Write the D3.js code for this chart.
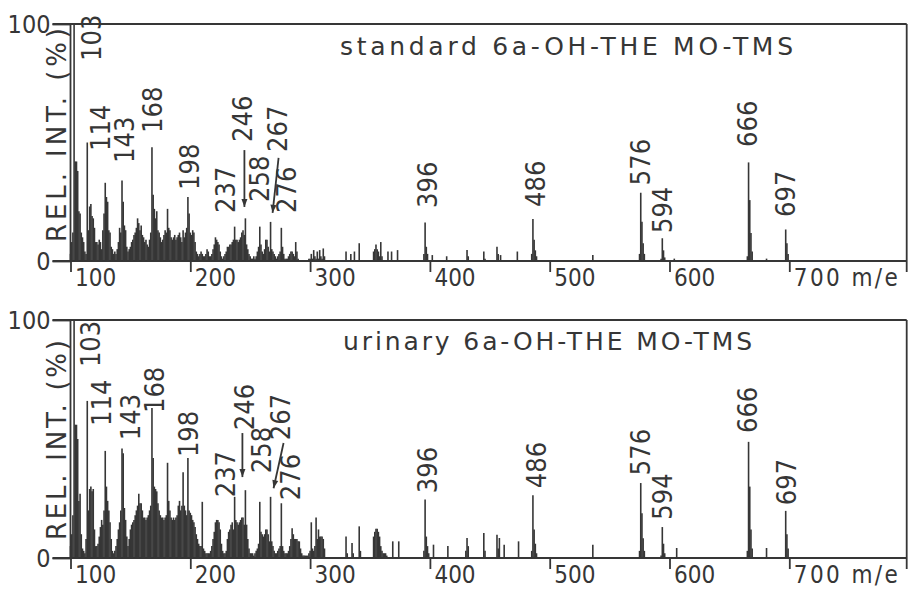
<!DOCTYPE html>
<html>
<head>
<meta charset="utf-8">
<script src="https://cdn.jsdelivr.net/npm/d3@7"></script>
<style>
  html, body { margin: 0; padding: 0; background: #fff; }
  svg text {
    font-family: "DejaVu Sans Condensed", "DejaVu Sans", sans-serif;
    font-stretch: condensed;
    fill: #363636;
  }
  svg text.wide {
    font-family: "DejaVu Sans", sans-serif;
    font-stretch: normal;
  }
</style>
</head>
<body>
<svg id="chart" width="910" height="589"></svg>
<script>
// Relative intensities (% of base peak) at every unit mass from m/e 100 to 312
const lowMassStart = 100;
const standardLow = [
  3, 8, 12, 100, 42, 42, 38, 21, 20, 12,          // 100-109
  10, 8, 4, 3, 50, 13, 23, 24, 19, 18,            // 110-119
  14, 8, 8, 7, 9, 8, 5, 13, 20, 33,               // 120-129
  27, 25, 13, 12, 6, 5, 3, 4, 3, 5,               // 130-139
  8, 14, 12, 34, 25, 15, 13, 6, 4, 5,             // 140-149
  6, 8, 9, 11, 12, 14, 18, 16, 13, 15,            // 150-159
  11, 10, 8, 9, 7, 6, 9, 12, 48, 28,              // 160-169
  22, 18, 21, 13, 12, 10, 8, 9, 11, 13,           // 170-179
  12, 22, 14, 13, 10, 9, 10, 11, 9, 10,           // 180-189
  11, 12, 10, 8, 13, 10, 12, 14, 27, 20,          // 190-199
  12, 11, 13, 12, 8, 4, 3, 2, 3, 4,               // 200-209
  3, 2, 2, 3, 5, 4, 2, 2, 3, 5,                   // 210-219
  7, 10, 9, 8, 7, 4, 2, 1, 2, 3,                  // 220-229
  4, 6, 6, 7, 7, 8, 9, 14.5, 9, 9,                // 230-239
  8, 9, 10, 12, 13, 11, 18, 7, 5, 3,              // 240-249
  2, 1, 1, 2, 1, 2, 4, 6, 14.5, 7,                // 250-259
  4, 3, 5, 9, 9, 6, 4, 16.5, 5, 4,                // 260-269
  3, 2, 1, 2, 3, 4, 14, 6, 3, 1,                  // 270-279
  1, 1, 2, 3, 4, 4, 3, 2, 8, 4,                   // 280-289
  1, 0, 0, 0, 0, 0, 0, 0, 0, 1,                   // 290-299
  1, 3, 1, 4.6, 2, 1, 4, 1, 4.6, 2,               // 300-309
  1, 5.3, 2                                       // 310-312
];
const urinaryLow = [
  5, 10, 18, 100, 56, 56, 50, 24, 27, 10,         // 100-109
  4, 3, 2, 8, 66, 20, 29, 30, 28, 29,             // 110-119
  12, 5, 5, 6, 9, 13, 16, 14, 20, 45,             // 120-129
  30, 24, 20, 15, 8, 3, 2, 3, 5, 8,               // 130-139
  12, 15, 20, 46, 44, 21, 16, 9, 5, 8,            // 140-149
  12, 14, 15, 16, 18, 20, 22, 27, 23, 23,         // 150-159
  20, 17, 17, 16, 17, 18, 20, 22, 63, 42,         // 160-169
  30, 29, 28, 23, 20, 18, 17, 17, 16, 17,         // 170-179
  18, 40, 24, 20, 17, 16, 17, 16, 17, 18,         // 180-189
  22, 24, 20, 22, 36, 22, 20, 18, 42, 20,         // 190-199
  19, 18, 16, 15, 13, 10, 8, 6, 5, 5,             // 200-209
  23.6, 4, 3, 2, 2, 2, 2, 3, 5, 8,                // 210-219
  11, 15, 16, 16, 15, 12, 6, 3, 2, 2,             // 220-229
  3, 8, 11, 12, 14, 15, 12, 25.7, 16, 15,         // 230-239
  14, 15, 16, 17, 17, 14, 28.5, 14, 8, 4,         // 240-249
  2, 2, 2, 1, 2, 3, 4, 6, 23.6, 11,               // 250-259
  10, 9, 10, 12, 12, 10, 7, 25.7, 7, 5,           // 260-269
  3, 2, 2, 3, 4, 5, 23, 5, 3, 2,                  // 270-279
  2, 2, 3, 5, 8, 12.5, 10, 8, 8, 8,               // 280-289
  7, 7, 4, 2, 1, 1, 1, 1, 1, 2,                   // 290-299
  3, 15, 4, 3, 5, 17, 8, 12, 9, 9,                // 300-309
  9, 8, 4                                         // 310-312
];

// Sparse peaks above m/e 312
const standardHighMz  = [330, 334, 337, 341, 353, 354, 355, 356, 357, 358, 359, 360, 365, 368, 373,
                         395, 396, 397, 398, 402, 414, 431, 432, 445, 446, 456, 457, 459, 473,
                         485, 486, 487, 488, 489, 536, 575, 576, 577, 578, 579, 593, 594, 595, 596, 604,
                         665, 666, 667, 668, 669, 681, 697, 698, 699];
const standardHighInt = [4, 3, 4, 7.5, 4, 5, 7, 5, 4, 2, 8, 2, 4, 4, 4.6,
                         3, 16.2, 6, 3, 2.5, 2, 4.6, 2, 4, 1, 6, 3, 2.5, 4,
                         3, 17.7, 9, 4.5, 2, 2.5, 3, 28.8, 16.6, 7.5, 3, 1, 9.6, 4.5, 1.5, 1,
                         2, 41.6, 25.7, 11.8, 4, 1, 13.3, 7.5, 3];
const urinaryHighMz  = [330, 331, 335, 336, 341, 342, 353, 354, 355, 356, 357, 358, 359, 360, 361, 362, 363, 364, 369, 374,
                        395, 396, 397, 398, 399, 403, 415, 430, 431, 432, 445, 446, 456, 457, 458, 462, 474,
                        485, 486, 487, 488, 489, 536, 575, 576, 577, 578, 579, 593, 594, 595, 596, 606,
                        665, 666, 667, 668, 669, 681, 697, 698, 699];
const urinaryHighInt = [9, 2, 6.3, 2, 13.3, 3, 9, 11, 12.3, 12.3, 11, 9, 5, 3, 2, 2, 2, 1, 7, 7,
                        3, 24.6, 9, 5, 2, 5.6, 5, 3, 8.4, 5, 10.5, 3, 9.8, 4, 8.4, 5.6, 7,
                        3, 26.4, 12, 6, 2, 5.6, 3, 31.5, 18.8, 8.3, 3, 1, 13, 6, 2, 4.2,
                        3, 48.8, 30, 12, 4, 4.2, 19.8, 10, 4];

// Annotated masses, axis ticks and texts
const annotatedMz = [103, 114, 143, 168, 198, 237, 246, 258, 267, 276, 396, 486, 576, 594, 666, 697];
const arrowedMz = [246, 267];
const xTicks = [100, 200, 300, 400, 500, 600, 700];
const yTicks = [0, 100];
const panelTitles = ["standard 6a-OH-THE MO-TMS", "urinary 6a-OH-THE MO-TMS"];
const yTitle = "REL. INT. (%)";
const xUnit = "m/e";

// Label placement per panel: [start level in %, horizontal nudge in px]
const standardLabelLayout = [[84.4, 17], [46.4, 13], [41.4, 2], [54, 0], [30, 1], [20.3, -9], [50.2, -3], [24.9, -1],
                             [46, 7], [20.3, 5], [22.4, 2], [22.8, 2], [32, 0], [11.8, 0], [48.1, -1], [18.6, 0]];
const urinaryLabelLayout  = [[80.2, 16], [55.5, 14], [49.5, 8], [60.9, 2], [42.4, 0], [25.5, -9], [53.7, -1], [35.6, 1],
                             [49.5, 10], [24.3, 9], [27.2, 2], [29.3, 3], [34.8, 0], [16.1, 0], [52.5, -1], [22.2, 1]];
// Leader arrows: [from level %, from dx, to level %, to dx]
const standardArrowLayout = [[46.8, -1, 22.8, -1], [43.5, 8, 20.3, 2]];
const urinaryArrowLayout  = [[52.5, -3, 34, -3], [48.3, 13, 29.3, 3]];

const ink = "#363636";
const svg = d3.select("#chart");
svg.append("rect").attr("width", 910).attr("height", 589).attr("fill", "#fff");

const x = d3.scaleLinear().domain([100, 798]).range([70.5, 906.7]);
const xRight = x.range()[1];

const panels = [
  { title: panelTitles[0], low: standardLow, highMz: standardHighMz, highInt: standardHighInt,
    y: d3.scaleLinear().domain([0, 100]).range([261, 24]),
    labels: standardLabelLayout, arrows: standardArrowLayout,
    titleX: 340, titleY: 55, titleLen: 453, yTitleMid: 135, yTitleLen: 214 },
  { title: panelTitles[1], low: urinaryLow, highMz: urinaryHighMz, highInt: urinaryHighInt,
    y: d3.scaleLinear().domain([0, 100]).range([558, 320]),
    labels: urinaryLabelLayout, arrows: urinaryArrowLayout,
    titleX: 343, titleY: 350, titleLen: 409, yTitleMid: 440, yTitleLen: 200 }
];

panels.forEach(p => {
  const y = p.y;
  const g = svg.append("g");

  const peaks = p.low.map((v, i) => ({ mz: lowMassStart + i, v }))
    .concat(p.highMz.map((m, i) => ({ mz: m, v: p.highInt[i] })))
    .filter(d => d.v > 0);

  // frame
  const y0 = y(0), y100 = y(100), x0 = x(100);
  const frame = [[x0 - 18, y100, xRight, y100], [x0 - 18, y0, xRight, y0],
                 [x0, y100, x0, y0], [xRight, y100, xRight, y0 + 11]];
  g.append("g").selectAll("line").data(frame).join("line")
    .attr("x1", d => d[0]).attr("y1", d => d[1]).attr("x2", d => d[2]).attr("y2", d => d[3])
    .attr("stroke", ink).attr("stroke-width", 1.8);

  // spectrum bars
  g.append("g").selectAll("line").data(peaks).join("line")
    .attr("x1", d => x(d.mz)).attr("x2", d => x(d.mz))
    .attr("y1", y0).attr("y2", d => y(d.v))
    .attr("stroke", ink).attr("stroke-width", 1.6);

  // x axis
  const xa = g.append("g").attr("transform", `translate(0,${y0})`)
    .call(d3.axisBottom(x).tickValues(xTicks).tickSize(11).tickSizeOuter(0)
      .tickFormat(d => d === 700 ? `${d} ${xUnit}` : d));
  xa.attr("font-family", null).attr("font-size", null);
  xa.select(".domain").remove();
  xa.selectAll(".tick line").attr("stroke", ink).attr("stroke-width", 1.8);
  xa.selectAll(".tick text").attr("x", 4).attr("y", 8).attr("dy", "0.7em")
    .attr("text-anchor", "start").attr("font-size", 24).attr("fill", ink);
  xa.selectAll(".tick text").filter(d => d === 700)
    .attr("textLength", 104).attr("lengthAdjust", "spacing");

  // y axis
  const ya = g.append("g").attr("transform", `translate(${x0},0)`)
    .call(d3.axisLeft(y).tickValues(yTicks).tickSize(18).tickSizeOuter(0));
  ya.attr("font-family", null).attr("font-size", null);
  ya.select(".domain").remove();
  ya.selectAll(".tick line").attr("stroke", ink).attr("stroke-width", 1.8);
  ya.selectAll(".tick text").attr("x", -20).attr("font-size", 25).attr("fill", ink);

  // axis title
  g.append("text").attr("class", "wide")
    .attr("transform", `translate(66,${p.yTitleMid}) rotate(-90)`)
    .attr("text-anchor", "middle").attr("font-size", 26)
    .attr("textLength", p.yTitleLen).attr("lengthAdjust", "spacing")
    .text(yTitle);

  // panel title
  g.append("text").attr("class", "wide")
    .attr("x", p.titleX).attr("y", p.titleY).attr("font-size", 25)
    .attr("textLength", p.titleLen).attr("lengthAdjust", "spacing")
    .text(p.title);

  // peak labels
  annotatedMz.forEach((m, i) => {
    const [lvl, dx] = p.labels[i];
    g.append("text")
      .attr("transform", `translate(${x(m) + dx},${y(lvl)}) rotate(-90)`)
      .attr("dy", "0.36em").attr("font-size", 27)
      .text(m);
  });

  // leader arrows
  arrowedMz.forEach((m, i) => {
    const [l1, d1, l2, d2] = p.arrows[i];
    const ax = x(m) + d1, ay = y(l1), bx = x(m) + d2, by = y(l2);
    g.append("line").attr("x1", ax).attr("y1", ay).attr("x2", bx).attr("y2", by)
      .attr("stroke", ink).attr("stroke-width", 1.8);
    const ang = Math.atan2(by - ay, bx - ax);
    const len = 8, hw = 3;
    const px = bx - len * Math.cos(ang), py = by - len * Math.sin(ang);
    const pts = [[bx, by],
                 [px + hw * Math.sin(ang), py - hw * Math.cos(ang)],
                 [px - hw * Math.sin(ang), py + hw * Math.cos(ang)]];
    g.append("polygon").attr("points", pts.map(q => q.join(",")).join(" ")).attr("fill", ink);
  });
});
</script>
</body>
</html>
